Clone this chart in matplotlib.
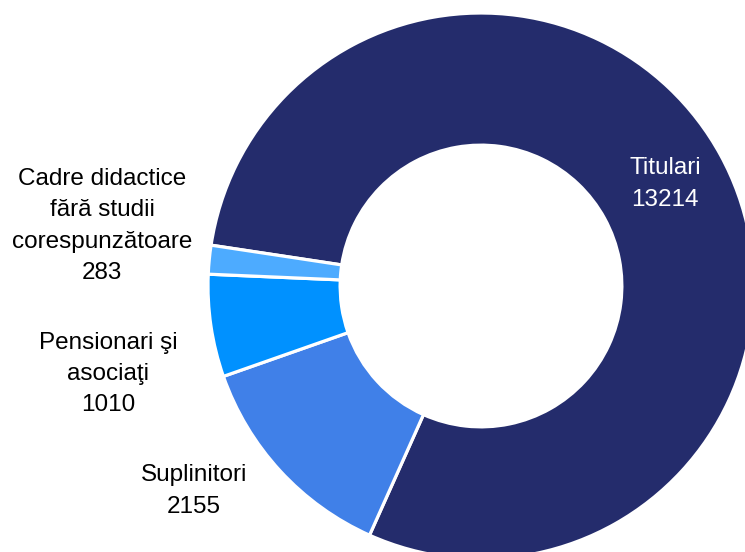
import matplotlib
matplotlib.use("Agg")
import matplotlib.pyplot as plt
from matplotlib import font_manager

# data
labels = ["Titulari", "Suplinitori", "Pensionari şi\nasociaţi",
          "Cadre didactice\nfără studii\ncorespunzătoare"]
values = [13214, 2155, 1010, 283]
colors = ["#242C6C", "#4080E8", "#0091FF", "#4DABFF"]

# narrow font if there is one, otherwise Arial look-alike
names = {f.name for f in font_manager.fontManager.ttflist}
narrow = None
for n in ["Liberation Sans Narrow", "Arial Narrow", "Nimbus Sans Narrow"]:
    if n in names:
        narrow = n
        break
if narrow:
    family, fs, ls = narrow, 21, 1.15
else:
    family, fs, ls = "Liberation Sans", 17.5, 1.55
plt.rcParams["font.family"] = [family, "DejaVu Sans"]

W, H = 745, 552
fig = plt.figure(figsize=(W / 100, H / 100), dpi=100)
ax = fig.add_axes([0, 0, 1, 1])

cx, cy, r = 481, H - 286, 273
ax.pie(values, colors=colors, startangle=171.4, counterclock=False,
       center=(cx, cy), radius=r,
       wedgeprops=dict(width=r * 0.484, edgecolor="white", linewidth=2.3))
ax.set_xlim(0, W)
ax.set_ylim(0, H)
ax.set_aspect("equal")
ax.axis("off")

# label positions (pixels from top-left)
pos = [(665, 184), (194, 491), (108, 374), (102, 226)]
for lab, v, (x, y), i in zip(labels, values, pos, range(4)):
    ax.text(x, H - y, f"{lab}\n{v}", ha="center", va="center",
            fontsize=fs, color="white" if i == 0 else "black",
            linespacing=ls)

fig.savefig("out.png", dpi=100)
